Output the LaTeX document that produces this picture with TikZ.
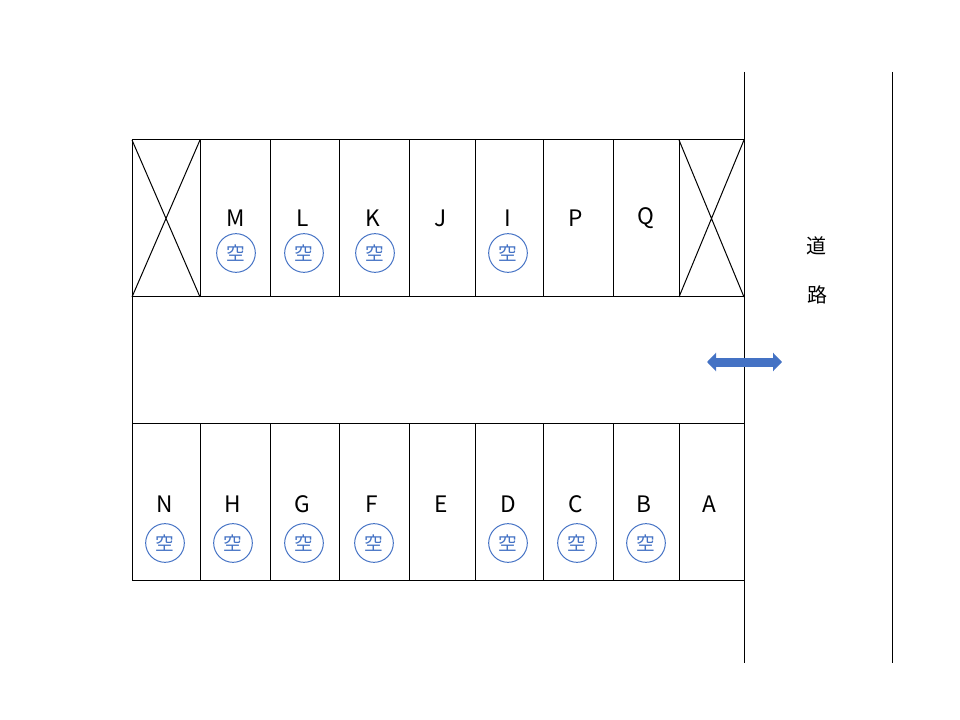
\documentclass[tikz,border=0pt]{standalone}
\usepackage{fontspec}
\setmainfont{Noto Sans CJK JP}
\usetikzlibrary{arrows.meta}
\definecolor{akiblue}{HTML}{4472C4}

\begin{document}
\begin{tikzpicture}[x=0.75pt,y=-0.75pt,line width=0.75pt,
  lbl/.style={inner sep=0,font=\fontsize{17}{17}\selectfont},
  aki/.style={circle,draw=akiblue,text=akiblue,minimum size=29pt,inner sep=0,font=\fontsize{14}{14}\selectfont},
  road/.style={inner sep=0,font=\fontsize{15}{15}\selectfont}]

\useasboundingbox (0,0) rectangle (960,720);

% upper row of spaces
\draw (132,140) rectangle (744,297);
\foreach \x in {200,270,339,409,475,543,613,679}
  \draw (\x,140) -- (\x,297);
\draw (132,140) -- (200,297) (200,140) -- (132,297);
\draw (679,140) -- (744,297) (744,140) -- (679,297);

% lower row of spaces
\draw (132,423) rectangle (744,580);
\foreach \x in {200,270,339,409,475,543,613,679}
  \draw (\x,423) -- (\x,580);

% aisle and road
\draw (132,297) -- (132,423);
\draw (744,72) -- (744,663);
\draw (892,72) -- (892,663);

\foreach \n/\x in {M/236,L/303,K/373,J/441,I/508,P/576,Q/646}
  \node[lbl] (\n) at (\x,218) {\n};
\foreach \n/\x in {N/165,H/233,G/302,F/372,E/441,D/508,C/576,B/644,A/709}
  \node[lbl] (\n) at (\x,504) {\n};

\foreach \n/\x in {M/236,L/304,K/375,I/508}
  \node[aki] (a\n) at (\x,253) {空};
\foreach \n/\x in {N/165,H/233,G/304,F/374,D/508,C/577,B/646}
  \node[aki] (a\n) at (\x,543) {空};

\node[road] (road1) at (816,246) {道};
\node[road] (road2) at (817,295) {路};

% entrance arrow
\coordinate (gateL) at (707,362);
\coordinate (gateR) at (782,362);
\draw[akiblue,line width=6.75pt,{Triangle[length=6.75pt,width=13.5pt]}-{Triangle[length=6.75pt,width=13.5pt]}] (gateL) -- (gateR);

\end{tikzpicture}
\end{document}
